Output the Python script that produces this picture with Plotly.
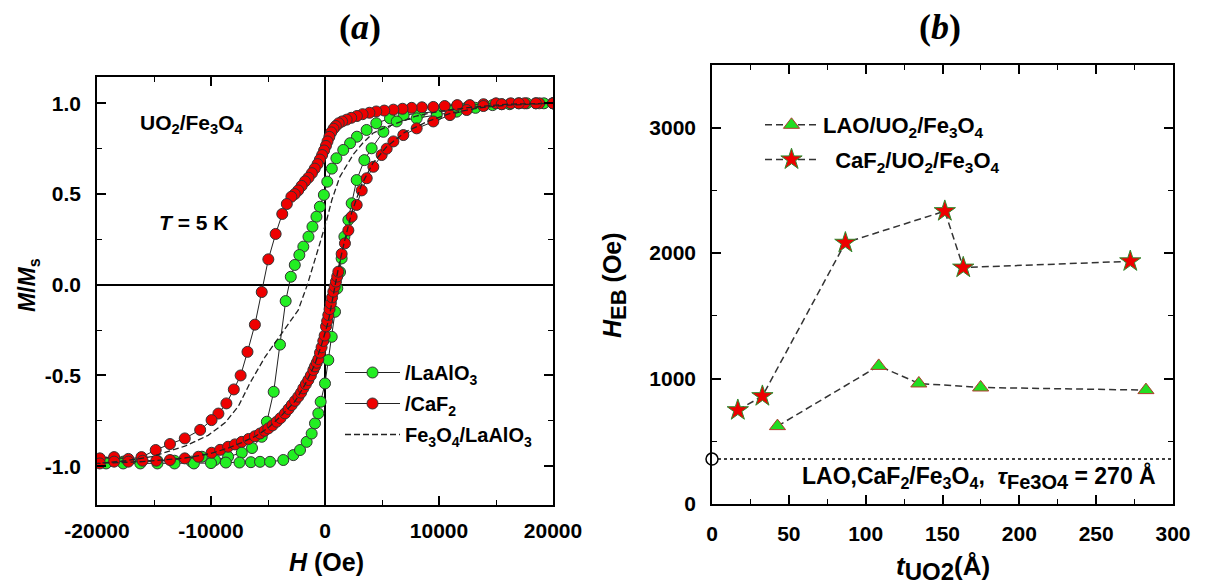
import plotly.graph_objects as go

# ---------------- Panel (a): hysteresis loops ----------------
# /LaAlO3 (green): descending branch then ascending branch
lao_H = [20000, 18500, 17000, 15500, 14000, 12500, 11000, 9800, 8300, 6900,
         5700, 4500, 3650, 2800, 2200, 1600, 1000, 600, 200, -100,
         -450, -750, -1100, -1450, -1900, -2250, -2650, -3000, -3450, -3950,
         -4500, -5100, -5550, -6400, -7300, -8500, -9650, -10800, -11700, -13200,
         -14700, -16200, -17700, -19200,
         -19200, -17700, -16200, -14700, -13200, -11500, -10000, -8700, -7500, -6500,
         -5700, -4820, -3660, -2780, -2190, -1610, -1170, -880, -585, -380,
         0, 290, 590, 880, 1080, 1320, 1460, 1700, 2050, 2340,
         2780, 3450, 4090, 5120, 6290, 8040, 9800, 11550, 13200, 14700,
         16200, 17700, 19200, 20000]
lao_M = [1.0, 1.0, 1.0, 0.995, 0.99, 0.98, 0.965, 0.955, 0.945, 0.935,
         0.917, 0.89, 0.853, 0.816, 0.78, 0.743, 0.697, 0.64, 0.568, 0.495,
         0.43, 0.375, 0.32, 0.265, 0.21, 0.164, 0.109, 0.044, -0.09, -0.33,
         -0.59, -0.755, -0.838, -0.9, -0.926, -0.948, -0.966, -0.948, -0.975, -0.97,
         -0.97, -0.975, -0.975, -0.98,
         -0.985, -0.985, -0.985, -0.985, -0.985, -0.985, -0.983, -0.98, -0.98, -0.978,
         -0.976, -0.976, -0.966, -0.939, -0.911, -0.866, -0.82, -0.764, -0.709, -0.645,
         -0.544, -0.415, -0.287, -0.149, -0.02, 0.07, 0.145, 0.265, 0.357, 0.449,
         0.577, 0.687, 0.752, 0.843, 0.9, 0.917, 0.935, 0.954, 0.975, 0.99,
         0.995, 1.0, 1.0, 1.0]

# /CaF2 (red)
caf_H = [20000, 18800, 17500, 16300, 15000, 13900, 12700, 11600, 10500, 9500,
         8500, 7600, 6800, 6000, 5200, 4500, 3900, 3300, 2800, 2300,
         1900, 1500, 1200, 950, 750, 550, 380, 220, 80, -80,
         -250, -450, -650, -900, -1150, -1450, -1750, -2050, -2350, -2650,
         -2950, -3350, -3750, -4330, -4970, -5550, -6150, -6800, -7400, -8000,
         -8650, -9350, -9950, -10950, -12300, -13600, -14850, -16100, -17250, -18500,
         -19750,
         -19750, -18500, -17250, -16000, -14800, -13600, -12300, -11100, -9950, -9200,
         -8500, -7900, -7300, -6700, -6150, -5700, -5300, -4970, -4600, -4240,
         -3900, -3510, -3200, -2920, -2630, -2340, -2100, -1900, -1680, -1460,
         -1240, -1020, -880, -730, -580, -440, -300, -150, -30, 90,
         190, 290, 400, 500, 620, 730, 850, 960, 1070, 1170,
         1460, 1750, 2050, 2340, 2780, 3220, 3660, 4240, 4970, 5410,
         6000, 6870, 8040, 9500, 10960, 12430, 13890, 15500, 17000, 18500,
         20000]
caf_M = [1.0, 1.0, 1.0, 1.0, 1.0, 0.995, 0.99, 0.99, 0.985, 0.98,
         0.978, 0.975, 0.97, 0.965, 0.96, 0.955, 0.948, 0.94, 0.93, 0.92,
         0.91, 0.9, 0.89, 0.875, 0.86, 0.84, 0.815, 0.79, 0.765, 0.74,
         0.715, 0.69, 0.665, 0.64, 0.615, 0.59, 0.57, 0.545, 0.52, 0.5,
         0.485, 0.445, 0.39, 0.28, 0.14, -0.04, -0.22, -0.37, -0.5, -0.577,
         -0.654, -0.71, -0.746, -0.8, -0.847, -0.878, -0.911, -0.95, -0.96, -0.95,
         -0.957,
         -0.985, -0.975, -0.975, -0.97, -0.97, -0.966, -0.957, -0.948, -0.926, -0.91,
         -0.893, -0.88, -0.866, -0.85, -0.835, -0.82, -0.805, -0.792, -0.775, -0.755,
         -0.735, -0.709, -0.685, -0.663, -0.64, -0.617, -0.595, -0.571, -0.548, -0.525,
         -0.5, -0.47, -0.45, -0.43, -0.41, -0.375, -0.345, -0.31, -0.28, -0.23,
         -0.2, -0.167, -0.135, -0.103, -0.07, -0.038, -0.01, 0.017, 0.045, 0.072,
         0.17, 0.228, 0.3, 0.375, 0.44, 0.52, 0.587, 0.65, 0.715, 0.75,
         0.79, 0.825, 0.862, 0.9, 0.935, 0.963, 0.985, 0.995, 1.0, 1.0,
         1.0]

# Fe3O4/LaAlO3 reference loop (dashed)
ref_H = [20000, 16000, 13000, 10000, 8000, 6300, 5200, 4200, 3300, 2500,
         1800, 1300, 600, 150, -450, -1150, -1550, -2350, -3800, -5250,
         -6600, -7600, -8750, -10250, -12300, -15200, -17500, -20000, -16000, -12300,
         -10000, -8500, -7300, -6100, -5000, -3800, -2600, -1750, -900, -300,
         300, 800, 1200, 1750, 2350, 3200, 4200, 5400, 7000, 9000,
         11000, 13500, 16000, 20000]
ref_M = [1.0, 0.995, 0.98, 0.955, 0.93, 0.89, 0.865, 0.835, 0.78, 0.72,
         0.65, 0.595, 0.467, 0.357, 0.228, 0.081, 0.0, -0.14, -0.268, -0.397,
         -0.544, -0.67, -0.76, -0.83, -0.89, -0.948, -0.97, -0.985, -0.975, -0.955,
         -0.93, -0.9, -0.87, -0.835, -0.79, -0.72, -0.64, -0.55, -0.44, -0.33,
         -0.2, -0.02, 0.1, 0.25, 0.4, 0.55, 0.67, 0.76, 0.84, 0.9,
         0.945, 0.975, 0.99, 1.0]

a_xticks = [-20000, -10000, 0, 10000, 20000]
a_xticktext = ["-20000", "-10000", "0", "10000", "20000"]
a_yticks = [-1.0, -0.5, 0.0, 0.5, 1.0]
a_yticktext = ["-1.0", "-0.5", "0.0", "0.5", "1.0"]

# ---------------- Panel (b): exchange bias ----------------
lao_t = [42.6, 108.5, 134.6, 174.8, 282.4]
lao_heb = [621, 1101, 961, 929, 908]
caf_t = [16.8, 32.8, 86.8, 151.5, 163.5, 272.2]
caf_heb = [748, 860, 2083, 2335, 1885, 1935]
ref_t = [0, 300]
ref_heb = [358, 358]

b_xticks = [0, 50, 100, 150, 200, 250, 300]
b_yticks = [0, 1000, 2000, 3000]

# page has an 8px body margin: build the figure 8px smaller and offset coords
OFF = 8
W, H = 1214 - OFF, 587 - OFF
def px(x):
    return (x - OFF) / W
def py(y):
    return 1 - (y - OFF) / H

SANS = "Liberation Sans, Arial, sans-serif"
SERIF = "Liberation Serif, Times New Roman, serif"

fig = go.Figure()

# Panel a traces
fig.add_trace(go.Scatter(
    x=lao_H, y=lao_M, mode="lines+markers", name="/LaAlO<sub>3</sub>",
    line=dict(color="#222222", width=1),
    marker=dict(size=11, color="#22ee22", line=dict(color="#333333", width=1)),
    xaxis="x", yaxis="y", legend="legend", legendgroup="g1"))
fig.add_trace(go.Scatter(
    x=caf_H, y=caf_M, mode="lines+markers", name="/CaF<sub>2</sub>",
    line=dict(color="#222222", width=1),
    marker=dict(size=11, color="#ee0000", line=dict(color="#333333", width=1)),
    xaxis="x", yaxis="y", legend="legend", legendgroup="g2"))
fig.add_trace(go.Scatter(
    x=ref_H, y=ref_M, mode="lines", name="Fe<sub>3</sub>O<sub>4</sub>/LaAlO<sub>3</sub>",
    line=dict(color="#222222", width=1.3, dash="6px,3px"),
    xaxis="x", yaxis="y", legend="legend", legendgroup="g3"))

# Panel b traces
fig.add_trace(go.Scatter(
    x=ref_t, y=ref_heb, mode="lines", showlegend=False,
    line=dict(color="black", width=1.5, dash="dot"),
    xaxis="x2", yaxis="y2"))
fig.add_trace(go.Scatter(
    x=ref_t[:1], y=ref_heb[:1], mode="markers", showlegend=False,
    marker=dict(size=12, color="white", line=dict(color="black", width=1.5)),
    cliponaxis=False, xaxis="x2", yaxis="y2"))
fig.add_trace(go.Scatter(
    x=lao_t, y=lao_heb, mode="lines+markers", name="LAO/UO<sub>2</sub>/Fe<sub>3</sub>O<sub>4</sub>",
    line=dict(color="#333333", width=1.5, dash="7px,4px"),
    marker=dict(symbol="triangle-up", size=14, color="#22dd22", line=dict(color="#b03a2e", width=1)),
    xaxis="x2", yaxis="y2", legend="legend2", legendgroup="h1"))
fig.add_trace(go.Scatter(
    x=caf_t, y=caf_heb, mode="lines+markers",
    name="\u00a0\u00a0CaF<sub>2</sub>/UO<sub>2</sub>/Fe<sub>3</sub>O<sub>4</sub>",
    line=dict(color="#333333", width=1.5, dash="7px,4px"),
    marker=dict(symbol="star", size=16, color="#ee0000", line=dict(color="#2e8b2e", width=1)),
    xaxis="x2", yaxis="y2", legend="legend2", legendgroup="h2"))

tickfont = dict(family=SANS, size=21, color="black", weight="bold")
axis_common = dict(showline=True, linecolor="black", linewidth=1.5, mirror="ticks",
                   ticks="inside", ticklen=9, tickwidth=1.5, tickcolor="black",
                   showgrid=False, tickfont=tickfont, automargin=False)

fig.update_layout(
    width=W, height=H,
    margin=dict(l=0, r=0, t=0, b=0),
    paper_bgcolor="white", plot_bgcolor="white",
    xaxis=dict(domain=[px(97), px(553)], range=[-20000, 20000], anchor="y",
               tickvals=a_xticks, ticktext=a_xticktext, ticklabelstandoff=6,
               zeroline=True, zerolinecolor="black", zerolinewidth=1.5,
               minor=dict(ticks="inside", ticklen=5, tickwidth=1.2, dtick=5000, tick0=0, tickcolor="black"),
               **axis_common),
    yaxis=dict(domain=[py(505), py(77)], range=[-1.214, 1.145], anchor="x",
               tickvals=a_yticks, ticktext=a_yticktext, ticklabelstandoff=10,
               zeroline=True, zerolinecolor="black", zerolinewidth=1.5,
               minor=dict(ticks="inside", ticklen=5, tickwidth=1.2, dtick=0.25, tick0=0, tickcolor="black"),
               **axis_common),
    xaxis2=dict(domain=[px(712), px(1173)], range=[0, 300], anchor="y2",
                tickvals=b_xticks, ticklabelstandoff=10, zeroline=False,
                minor=dict(ticks="inside", ticklen=5, tickwidth=1.2, dtick=25, tick0=0, tickcolor="black"),
                **axis_common),
    yaxis2=dict(domain=[py(504), py(65)], range=[0, 3500], anchor="x2",
                tickvals=b_yticks, ticklabelstandoff=10, zeroline=False,
                minor=dict(ticks="inside", ticklen=5, tickwidth=1.2, dtick=500, tick0=0, tickcolor="black"),
                **axis_common),
    legend=dict(x=px(340), y=py(353), xanchor="left", yanchor="top",
                bgcolor="rgba(0,0,0,0)", tracegroupgap=2, itemwidth=55,
                font=dict(family=SANS, size=20, color="black", weight="bold")),
    legend2=dict(x=px(760), y=py(104), xanchor="left", yanchor="top",
                 bgcolor="rgba(0,0,0,0)", tracegroupgap=3, itemwidth=53,
                 font=dict(family=SANS, size=22, color="black", weight="bold")),
)

annots = [
    dict(text="(<i>a</i>)", x=px(360), y=py(27), font=dict(family=SERIF, size=36, weight="bold")),
    dict(text="(<i>b</i>)", x=px(940), y=py(27), font=dict(family=SERIF, size=36, weight="bold")),
    dict(text="UO<sub>2</sub>/Fe<sub>3</sub>O<sub>4</sub>", x=px(138), y=py(124), xanchor="left",
         font=dict(family=SANS, size=21, weight="bold")),
    dict(text="<i>T</i> = 5 K", x=px(157), y=py(222), xanchor="left",
         font=dict(family=SANS, size=21, weight="bold")),
    dict(text="<i>H</i> (Oe)", x=px(326), y=py(562), font=dict(family=SANS, size=25, weight="bold")),
    dict(text="<i>M</i>/<i>M</i><sub>s</sub>", x=px(28), y=py(285), textangle=-90,
         font=dict(family=SANS, size=23, weight="bold")),
    dict(text="<i>H</i><sub><span style='font-size:22px'>EB</span></sub> (Oe)", x=px(614), y=py(285),
         textangle=-90, font=dict(family=SANS, size=25, weight="bold")),
    dict(text="<i>t</i><sub><span style='font-size:24px'>UO2</span></sub>(Å)", x=px(943), y=py(568),
         font=dict(family=SANS, size=26, weight="bold")),
    dict(text="LAO,CaF<sub>2</sub>/Fe<sub>3</sub>O<sub>4</sub>,  <i>τ</i><sub><span style='font-size:20px'>Fe3O4</span></sub> = 270 Å",
         x=px(1158), y=py(477), xanchor="right",
         font=dict(family=SANS, size=23, weight="bold")),
]
for a in annots:
    a.setdefault("xanchor", "center")
    a["xref"] = "paper"
    a["yref"] = "paper"
    a["yanchor"] = "middle"
    a["showarrow"] = False
    a["font"].setdefault("color", "black")
    fig.add_annotation(**a)

fig.write_html("out.html")
